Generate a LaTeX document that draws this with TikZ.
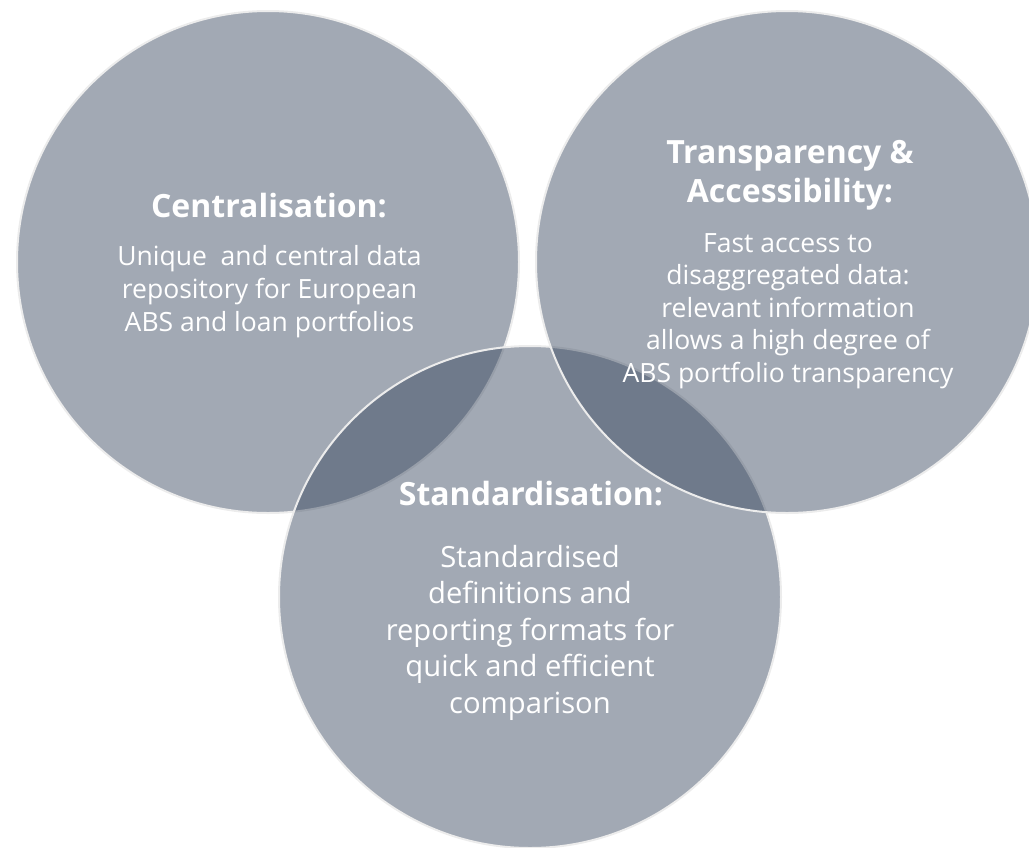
\documentclass[tikz,border=0pt]{standalone}
\usepackage{fontspec}
\setmainfont{Open Sans}
\definecolor{circ}{RGB}{49,65,89}
\definecolor{rim}{RGB}{236,236,236}
\tikzset{
  venn/.style={fill=circ, fill opacity=0.45, draw=rim, line width=2pt},
  ttl/.style={text=white, font=\fontsize{32}{39}\selectfont\bfseries, inner sep=0pt, anchor=base},
  bdy/.style={text=white, font=\fontsize{26.5}{33}\selectfont, inner sep=0pt, anchor=base},
  bdybig/.style={text=white, font=\fontsize{29.2}{36.5}\selectfont, inner sep=0pt, anchor=base},
}
\begin{document}
\begin{tikzpicture}[x=1pt,y=-1pt]
\useasboundingbox (0,0) rectangle (1029,847);
\path[venn] (268,262) circle[radius=251];
\path[venn] (530,597) circle[radius=251];
\path[venn] (787,262) circle[radius=251];

\node[ttl] (t1) at (269,217) {Centralisation:};
\node[bdy] (b1) at (269.5,265) {\begin{tabular}[t]{@{}c@{}}Unique~ and central data\\repository for European\\ABS and loan portfolios\end{tabular}};

\node[ttl] (t2) at (790,163) {\begin{tabular}[t]{@{}c@{}}Transparency \&\\Accessibility:\end{tabular}};
\node[bdy,font=\fontsize{26.5}{32.5}\selectfont] (b2) at (788,252) {\begin{tabular}[t]{@{}c@{}}Fast access to\\disaggregated data:\\relevant information\\allows a high degree of\\ABS portfolio transparency\end{tabular}};

\node[ttl] (t3) at (531,505) {Standardisation:};
\node[bdybig] (b3) at (530,567) {\begin{tabular}[t]{@{}c@{}}Standardised\\definitions and\\reporting formats for\\quick and efficient\\comparison\end{tabular}};
\end{tikzpicture}
\end{document}
